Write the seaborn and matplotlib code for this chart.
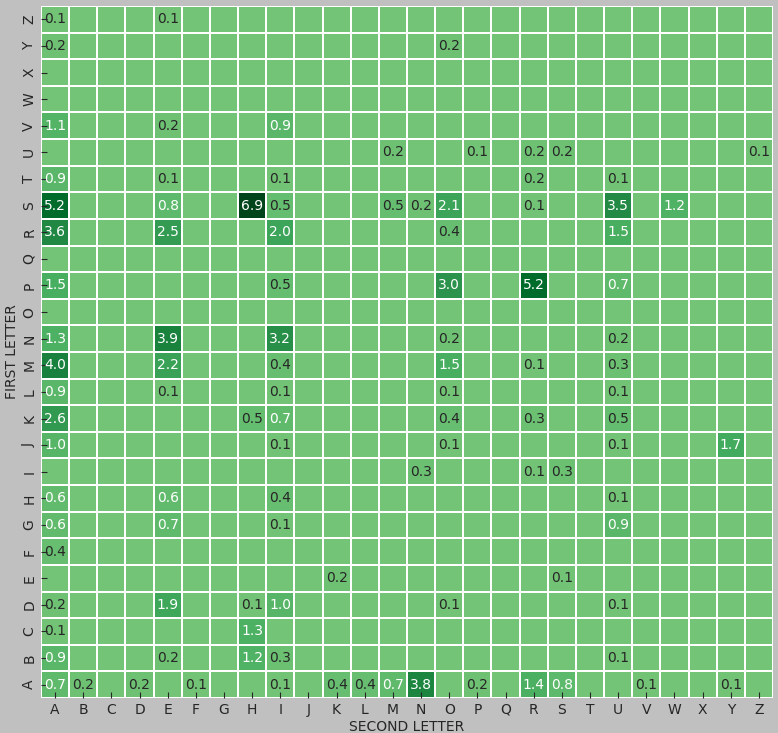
import string
import numpy as np
import pandas as pd
import matplotlib.pyplot as plt
import seaborn as sns

letters = list(string.ascii_uppercase)

# percent of word starts per (first letter, second letter); only non-zero cells listed
row_a = {"A": 0.7, "B": 0.2, "D": 0.2, "F": 0.1, "I": 0.1, "K": 0.4, "L": 0.4, "M": 0.7,
         "N": 3.8, "P": 0.2, "R": 1.4, "S": 0.8, "V": 0.1, "Y": 0.1}
row_b = {"A": 0.9, "E": 0.2, "H": 1.2, "I": 0.3, "U": 0.1}
row_c = {"A": 0.1, "H": 1.3}
row_d = {"A": 0.2, "E": 1.9, "H": 0.1, "I": 1.0, "O": 0.1, "U": 0.1}
row_e = {"K": 0.2, "S": 0.1}
row_f = {"A": 0.4}
row_g = {"A": 0.6, "E": 0.7, "I": 0.1, "U": 0.9}
row_h = {"A": 0.6, "E": 0.6, "I": 0.4, "U": 0.1}
row_i = {"N": 0.3, "R": 0.1, "S": 0.3}
row_j = {"A": 1.0, "I": 0.1, "O": 0.1, "U": 0.1, "Y": 1.7}
row_k = {"A": 2.6, "H": 0.5, "I": 0.7, "O": 0.4, "R": 0.3, "U": 0.5}
row_l = {"A": 0.9, "E": 0.1, "I": 0.1, "O": 0.1, "U": 0.1}
row_m = {"A": 4.0, "E": 2.2, "I": 0.4, "O": 1.5, "R": 0.1, "U": 0.3}
row_n = {"A": 1.3, "E": 3.9, "I": 3.2, "O": 0.2, "U": 0.2}
row_o = {}
row_p = {"A": 1.5, "I": 0.5, "O": 3.0, "R": 5.2, "U": 0.7}
row_q = {}
row_r = {"A": 3.6, "E": 2.5, "I": 2.0, "O": 0.4, "U": 1.5}
row_s = {"A": 5.2, "E": 0.8, "H": 6.9, "I": 0.5, "M": 0.5, "N": 0.2, "O": 2.1,
         "R": 0.1, "U": 3.5, "W": 1.2}
row_t = {"A": 0.9, "E": 0.1, "I": 0.1, "R": 0.2, "U": 0.1}
row_u = {"M": 0.2, "P": 0.1, "R": 0.2, "S": 0.2, "Z": 0.1}
row_v = {"A": 1.1, "E": 0.2, "I": 0.9}
row_w = {}
row_x = {}
row_y = {"A": 0.2, "O": 0.2}
row_z = {"A": 0.1, "E": 0.1}

rows = [row_a, row_b, row_c, row_d, row_e, row_f, row_g, row_h, row_i, row_j, row_k,
        row_l, row_m, row_n, row_o, row_p, row_q, row_r, row_s, row_t, row_u, row_v,
        row_w, row_x, row_y, row_z]

df = pd.DataFrame([[r.get(c, 0.0) for c in letters] for r in rows],
                  index=letters, columns=letters)
df.index.name = "FIRST LETTER"
df.columns.name = "SECOND LETTER"

labels = df.map(lambda v: f"{v:.1f}" if v > 0 else "")

plt.rcParams["figure.facecolor"] = "#c0c0c0"
plt.rcParams["text.color"] = "#262626"
plt.rcParams["axes.labelcolor"] = "#262626"
plt.rcParams["xtick.color"] = "#262626"
plt.rcParams["ytick.color"] = "#262626"

fig = plt.figure(figsize=(7.78, 7.33), dpi=100)
ax = fig.add_axes([0.0527, 0.0477, 0.9409, 0.9441])

sns.heatmap(df, cmap="Greens", center=0, annot=labels, fmt="", cbar=False,
            linewidths=1.1, linecolor="white", annot_kws={"fontsize": 10}, ax=ax)
ax.invert_yaxis()

# light text on the darker cells, dark text on the pale ones
for txt in ax.texts:
    s = txt.get_text()
    if s:
        txt.set_color("white" if float(s) >= 0.6 else "#262626")

ax.tick_params(axis="both", direction="in", length=4, labelsize=10)
ax.set_xticklabels(letters, rotation=0)
ax.set_yticklabels(letters, rotation=90, va="center")
ax.set_xlabel("SECOND LETTER", fontsize=10, labelpad=2)
ax.set_ylabel("FIRST LETTER", fontsize=10, labelpad=2)

fig.savefig("out.png", dpi=100, facecolor=fig.get_facecolor())
